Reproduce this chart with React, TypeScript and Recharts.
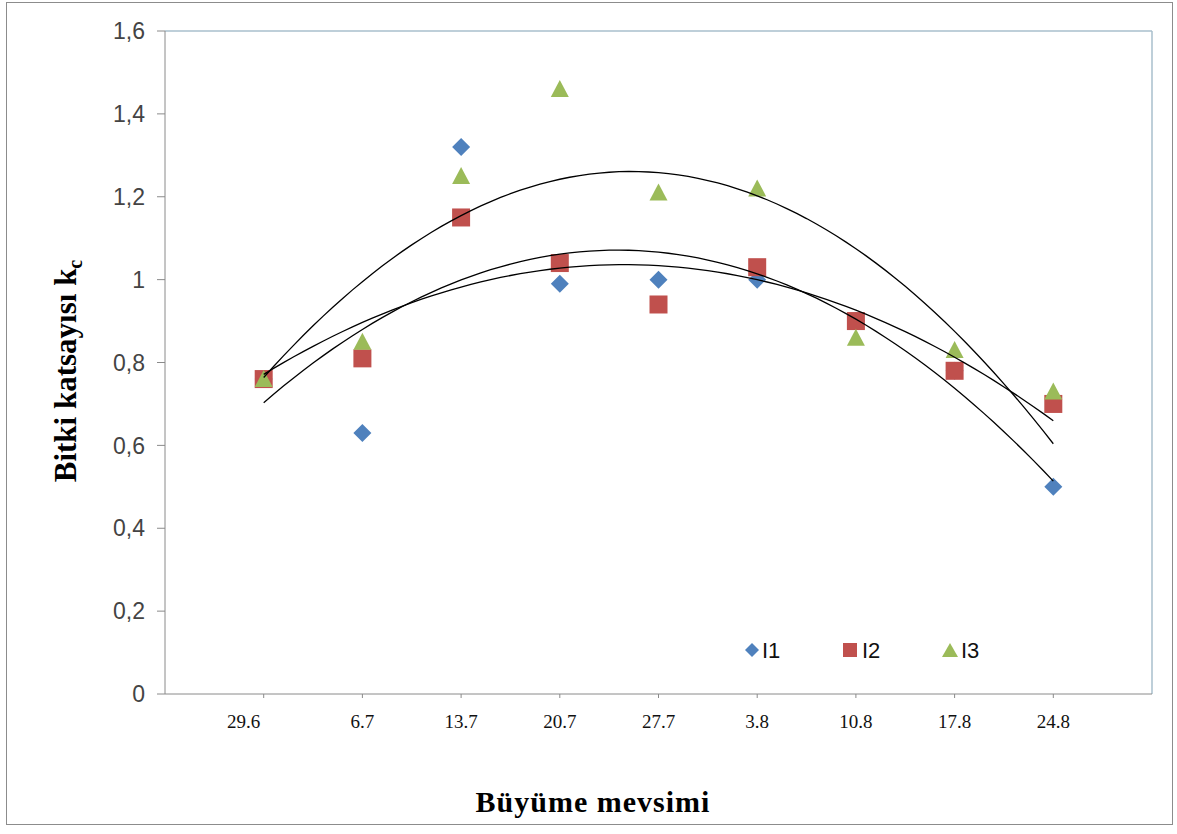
import React from "react"
import { ScatterChart, Scatter, XAxis, YAxis, ReferenceLine } from "recharts"

const categories = ["29.6", "6.7", "13.7", "20.7", "27.7", "3.8", "10.8", "17.8", "24.8"]
const i1 = [0.76, 0.63, 1.32, 0.99, 1.0, 1.0, 0.9, 0.78, 0.5]
const i2 = [0.76, 0.81, 1.15, 1.04, 0.94, 1.03, 0.9, 0.78, 0.7]
const i3 = [0.76, 0.85, 1.25, 1.46, 1.21, 1.22, 0.86, 0.83, 0.73]
const yTicks = [0, 0.2, 0.4, 0.6, 0.8, 1, 1.2, 1.4, 1.6]

const BLUE = "#4F81BD"
const RED = "#C0504D"
const GREEN = "#9BBB59"

const toPoints = (vals: number[]) => vals.map((y, i) => ({ x: i + 1, y }))

// quadratic least-squares trendline, like Excel's polynomial (order 2)
function polyFit2(vals: number[]) {
    let s0 = 0, s1 = 0, s2 = 0, s3 = 0, s4 = 0, t0 = 0, t1 = 0, t2 = 0
    vals.forEach((y, i) => {
        const x = i + 1
        s0 += 1; s1 += x; s2 += x * x; s3 += x * x * x; s4 += x * x * x * x
        t0 += y; t1 += x * y; t2 += x * x * y
    })
    const m = [
        [s0, s1, s2, t0],
        [s1, s2, s3, t1],
        [s2, s3, s4, t2],
    ]
    for (let c = 0; c < 3; c++) {
        for (let r = c + 1; r < 3; r++) {
            const f = m[r][c] / m[c][c]
            for (let k = c; k < 4; k++) m[r][k] -= f * m[c][k]
        }
    }
    const coef = [0, 0, 0]
    for (let r = 2; r >= 0; r--) {
        let s = m[r][3]
        for (let k = r + 1; k < 3; k++) s -= m[r][k] * coef[k]
        coef[r] = s / m[r][r]
    }
    const pts: { x: number; y: number }[] = []
    for (let x = 1; x <= vals.length + 1e-9; x += 0.1) {
        pts.push({ x, y: coef[0] + coef[1] * x + coef[2] * x * x })
    }
    return pts
}

const Diamond = (p: any) => (
    <polygon
        points={`${p.cx},${p.cy - 9} ${p.cx + 9},${p.cy} ${p.cx},${p.cy + 9} ${p.cx - 9},${p.cy}`}
        fill={BLUE}
    />
)
const Square = (p: any) => <rect x={p.cx - 9} y={p.cy - 9} width={18} height={18} fill={RED} />
const Triangle = (p: any) => (
    <polygon points={`${p.cx},${p.cy - 9} ${p.cx + 9},${p.cy + 8} ${p.cx - 9},${p.cy + 8}`} fill={GREEN} />
)
const NoDot = () => <g />

const XTick = (p: any) => {
    const label = categories[p.payload.value - 1] ?? ""
    const dx = p.payload.value === 1 ? -20 : 0
    return (
        <text x={p.x + dx} y={p.y} dy="0.71em" textAnchor="middle" fontFamily="'Liberation Serif', serif" fontSize={19} fill="#111">
            {label}
        </text>
    )
}

export default function App() {
    return (
        <div style={{ position: "absolute", left: 0, top: 0, width: 1177, height: 834, background: "#fff" }}>
            <div style={{ position: "absolute", left: 6, top: 2, width: 1165, height: 821, border: "1px solid #8c8c8c" }} />
            <ScatterChart width={1177} height={834} margin={{ top: 31, right: 25, left: 105, bottom: 80 }}>
                <XAxis
                    type="number"
                    dataKey="x"
                    domain={[0, 10]}
                    ticks={[1, 2, 3, 4, 5, 6, 7, 8, 9]}
                    height={60}
                    stroke="#8a8a8a"
                    tickSize={4}
                    tickMargin={17}
                    tick={<XTick />}
                    allowDataOverflow
                />
                <YAxis
                    type="number"
                    dataKey="y"
                    domain={[0, 1.6]}
                    ticks={yTicks}
                    width={60}
                    stroke="#8a8a8a"
                    tickSize={8}
                    tickMargin={12}
                    tick={{ fontFamily: "'Liberation Sans', sans-serif", fontSize: 23, fill: "#444" }}
                    tickFormatter={(v: number) => String(v).replace(".", ",")}
                />
                <ReferenceLine y={1.6} stroke="#a9bfcc" strokeWidth={1.5} />
                <ReferenceLine x={10} stroke="#a9bfcc" strokeWidth={1.5} />
                <Scatter data={toPoints(i1)} shape={<Diamond />} isAnimationActive={false} />
                <Scatter data={toPoints(i2)} shape={<Square />} isAnimationActive={false} />
                <Scatter data={toPoints(i3)} shape={<Triangle />} isAnimationActive={false} />
                <Scatter data={polyFit2(i1)} line={{ stroke: "#000", strokeWidth: 1.3 }} lineType="joint" shape={<NoDot />} isAnimationActive={false} />
                <Scatter data={polyFit2(i2)} line={{ stroke: "#000", strokeWidth: 1.3 }} lineType="joint" shape={<NoDot />} isAnimationActive={false} />
                <Scatter data={polyFit2(i3)} line={{ stroke: "#000", strokeWidth: 1.3 }} lineType="joint" shape={<NoDot />} isAnimationActive={false} />
            </ScatterChart>
            <svg width={1177} height={834} style={{ position: "absolute", left: 0, top: 0, pointerEvents: "none" }}>
                <text x={593} y={812} textAnchor="middle" fontFamily="'Liberation Serif', serif" fontWeight="bold" fontSize={30} fill="#000" letterSpacing={1}>
                    Büyüme mevsimi
                </text>
                <text transform="translate(76,371) rotate(-90)" textAnchor="middle" fontFamily="'Liberation Serif', serif" fontWeight="bold" fontSize={31} fill="#000">
                    Bitki katsayısı k<tspan fontSize={20} dy={6}>c</tspan>
                </text>
                <polygon points="752,643 759,650 752,657 745,650" fill={BLUE} />
                <text x={762} y={658} fontFamily="'Liberation Sans', sans-serif" fontSize={22} fill="#111">I1</text>
                <rect x={843} y={643} width={14} height={14} fill={RED} />
                <text x={862} y={658} fontFamily="'Liberation Sans', sans-serif" fontSize={22} fill="#111">I2</text>
                <polygon points="950,643 958,657 942,657" fill={GREEN} />
                <text x={961} y={658} fontFamily="'Liberation Sans', sans-serif" fontSize={22} fill="#111">I3</text>
            </svg>
        </div>
    )
}
